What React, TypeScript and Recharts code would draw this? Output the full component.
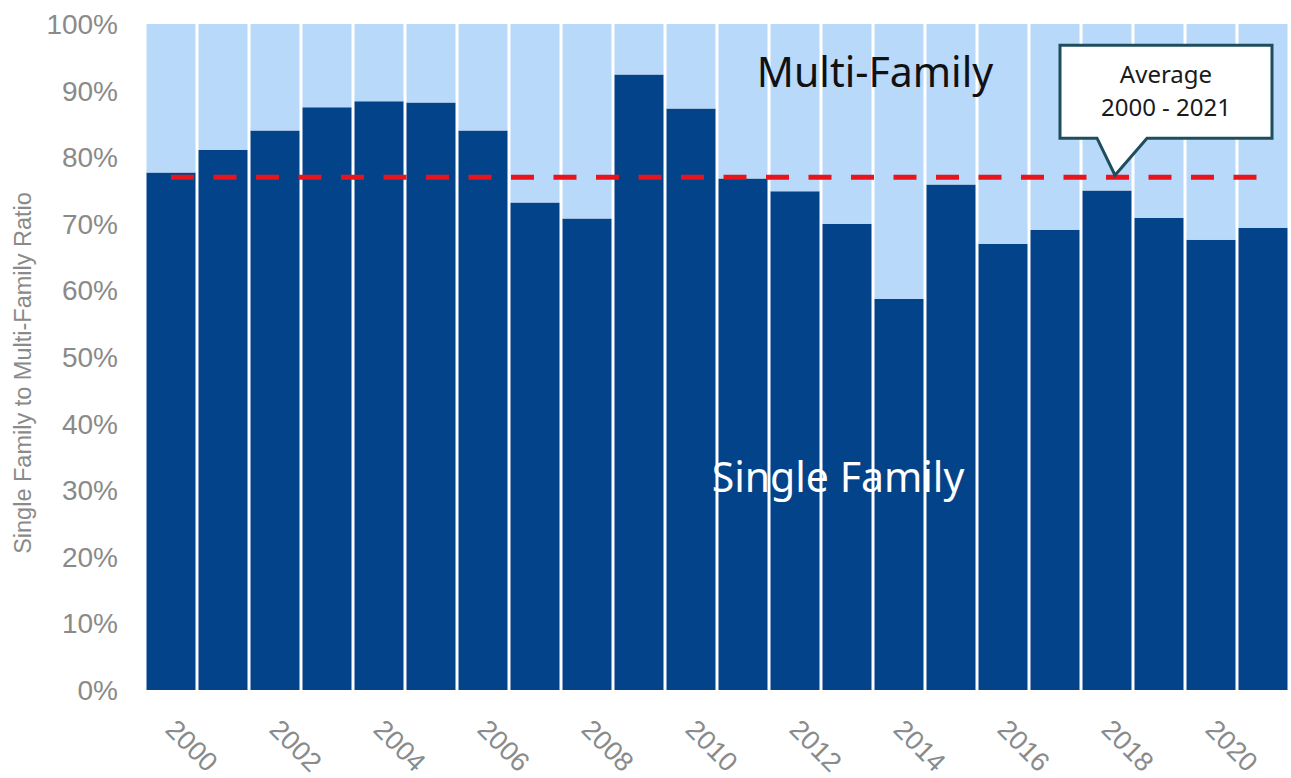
import React from 'react';
import { ComposedChart, Bar, Line, XAxis, YAxis, ReferenceDot } from 'recharts';

const years = ['2000','2001','2002','2003','2004','2005','2006','2007','2008','2009','2010','2011','2012','2013','2014','2015','2016','2017','2018','2019','2020','2021'];
const singleFamily = [77.7, 81.1, 84.0, 87.5, 88.4, 88.2, 84.0, 73.2, 70.8, 92.4, 87.3, 76.8, 74.9, 70.0, 58.7, 75.9, 67.0, 69.1, 75.0, 70.9, 67.6, 69.4];
const averageValue = 77.0;
const yTicks = [0, 10, 20, 30, 40, 50, 60, 70, 80, 90, 100];
const xTickLabels = ['2000','2002','2004','2006','2008','2010','2012','2014','2016','2018','2020'];

const data = years.map((y, i) => ({
  year: y,
  single: singleFamily[i],
  multi: +(100 - singleFamily[i]).toFixed(1),
  avg: averageValue,
}));

const GREY = '#8a8a8a';
const DARK = '#03438a';
const LIGHT = '#b9d9fb';

const XTick = (props: any) => {
  const { x, payload } = props;
  if (!xTickLabels.includes(payload.value)) return null;
  const px = x - 7;
  const py = 731;
  return (
    <text x={px} y={py} transform={`rotate(45, ${px}, ${py})`} textAnchor="start" fill={GREY}
      fontSize={27} fontFamily="'Liberation Sans', Arial, sans-serif">{payload.value}</text>
  );
};

const YTick = (props: any) => {
  const { x, y, payload } = props;
  return (
    <text x={x} y={y} dy={10} textAnchor="end" fill={GREY} fontSize={28}
      fontFamily="'Liberation Sans', Arial, sans-serif">{`${payload.value}%`}</text>
  );
};

const Callout = (props: any) => {
  const { cx, cy } = props;
  const tipX = cx + 8;
  const tipY = cy - 2;
  const left = cx - 47, right = cx + 165, top = cy - 132, bottom = cy - 39;
  const pl = cx - 10, pr = cx + 40;
  const d = `M${left},${top} L${right},${top} L${right},${bottom} L${pr},${bottom} L${tipX},${tipY} L${pl},${bottom} L${left},${bottom} Z`;
  const mid = (left + right) / 2;
  return (
    <g>
      <path d={d} fill="#ffffff" stroke="#1e4e5e" strokeWidth={3} strokeLinejoin="miter" />
      <text x={mid} y={top + 38} textAnchor="middle" fill="#1a1a1a" fontSize={24} fontFamily="'Noto Sans', sans-serif">Average</text>
      <text x={mid} y={top + 71} textAnchor="middle" fill="#1a1a1a" fontSize={24} fontFamily="'Noto Sans', sans-serif">2000 - 2021</text>
    </g>
  );
};

const MultiLabel = (props: any) => {
  const { cx, cy } = props;
  return (
    <text x={cx + 28} y={cy} textAnchor="middle" fill="#111111" fontSize={41} fontFamily="'Noto Sans', sans-serif">Multi-Family</text>
  );
};

const SingleLabel = (props: any) => {
  const { cx, cy } = props;
  return (
    <text x={cx - 9} y={cy} textAnchor="middle" fill="#ffffff" fontSize={41} fontFamily="'Noto Sans', sans-serif">Single Family</text>
  );
};

export default function App() {
  return (
    <div style={{ position: 'absolute', left: 0, top: 0, width: 1291, height: 778, background: '#fff' }}>
      <ComposedChart width={1291} height={778} data={data} margin={{ top: 24, right: 2, bottom: 0, left: 0 }}
        barCategoryGap={1.5}>
        <XAxis dataKey="year" height={88} interval={0} tick={<XTick />} tickLine={false} axisLine={false} />
        <YAxis width={145} domain={[0, 100]} ticks={yTicks} interval={0} tick={<YTick />} tickLine={false} axisLine={false}
          tickMargin={21} />
        <Bar dataKey="single" stackId="a" fill={DARK} isAnimationActive={false} />
        <Bar dataKey="multi" stackId="a" fill={LIGHT} isAnimationActive={false} />
        <Line dataKey="avg" stroke="#e8141c" strokeWidth={5} strokeDasharray="23 19.5" dot={false} activeDot={false}
          isAnimationActive={false} type="linear" />
        <ReferenceDot x="2018" y={averageValue} r={0} shape={<Callout />} ifOverflow="visible" />
        <ReferenceDot x="2013" y={90.6} r={0} shape={<MultiLabel />} ifOverflow="visible" />
        <ReferenceDot x="2013" y={29.8} r={0} shape={<SingleLabel />} ifOverflow="visible" />
      </ComposedChart>
      <svg width={60} height={778} style={{ position: 'absolute', left: 0, top: 0 }}>
        <text x={31} y={373} transform="rotate(-90, 31, 373)" textAnchor="middle" fill={GREY} fontSize={23.5}
          fontFamily="'Liberation Sans', Arial, sans-serif">Single Family to Multi-Family Ratio</text>
      </svg>
    </div>
  );
}
